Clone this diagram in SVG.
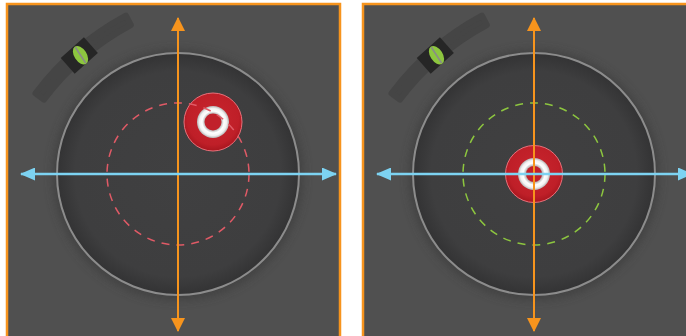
<svg xmlns="http://www.w3.org/2000/svg" width="686" height="336" viewBox="0 0 686 336">
<style>
.panel{fill:#505050;stroke:#f7941d;stroke-width:2.5}
.dish{fill:url(#dishG);stroke:#8c8c8c;stroke-width:2}
.halo{fill:#3a3a3a;opacity:0.6;filter:url(#blur)}
.band{fill:#454545;stroke:#454545;stroke-width:6;stroke-linejoin:round}
.block{fill:#262626}
.bubble{fill:#8dc63f}
.bline{stroke:#8a8a8a;stroke-width:1.6}
.tOuter{fill:url(#redG);stroke:#e8707a;stroke-width:1}
.tRing{fill:url(#ringG)}
.tDot{fill:#c1212b}
.dashR{fill:none;stroke:#e05a66;stroke-width:1.5;stroke-dasharray:8 7}
.dashG{fill:none;stroke:#8dc63f;stroke-width:1.5;stroke-dasharray:8 7}
.vaxis{stroke:#f7941d;stroke-width:2;marker-start:url(#ho);marker-end:url(#ho)}
.haxis{stroke:#7dd3f2;stroke-width:2.6;marker-start:url(#hb);marker-end:url(#hb)}
</style>
<defs>
<filter id="blur" x="-20%" y="-20%" width="140%" height="140%"><feGaussianBlur stdDeviation="4"/></filter>
<radialGradient id="dishG" cx="0.5" cy="0.5" r="0.5">
<stop offset="0" stop-color="#404041"/>
<stop offset="0.85" stop-color="#3e3e3f"/>
<stop offset="1" stop-color="#333334"/>
</radialGradient>
<radialGradient id="redG" cx="0.5" cy="0.45" r="0.55">
<stop offset="0" stop-color="#c9252e"/>
<stop offset="0.8" stop-color="#bf1f28"/>
<stop offset="1" stop-color="#a8161e"/>
</radialGradient>
<radialGradient id="ringG" cx="0.5" cy="0.5" r="0.5">
<stop offset="0.5" stop-color="#b0b0b0"/>
<stop offset="0.68" stop-color="#ffffff"/>
<stop offset="0.85" stop-color="#f2f2f2"/>
<stop offset="1" stop-color="#b5b5b5"/>
</radialGradient>
<marker id="ho" viewBox="0 0 14 14" refX="13" refY="7" markerWidth="14" markerHeight="14" markerUnits="userSpaceOnUse" orient="auto-start-reverse">
<path d="M0,0 L14,7 L0,14 Z" fill="#f7941d"/>
</marker>
<marker id="hb" viewBox="0 0 15 13" refX="14" refY="6.5" markerWidth="15" markerHeight="13" markerUnits="userSpaceOnUse" orient="auto-start-reverse">
<path d="M0,0 L15,6.5 L0,13 Z" fill="#7dd3f2"/>
</marker>
<g id="level-shape">
<path class="band" d="M35.5,93.3 A277.25,277.25 0 0 1 125.9,15.7 L130.8,25 A266.75,266.75 0 0 0 43.9,99.6 Z"/>
<rect class="block" x="-15.5" y="-10.5" width="31" height="21" transform="translate(79.3,55.5) rotate(-41.6)"/>
<g transform="translate(80.5,55.2) rotate(-33)">
<ellipse class="bubble" cx="0" cy="0" rx="6.2" ry="10.3"/>
<line class="bline" x1="0" y1="-9.5" x2="0" y2="9.5"/>
</g>
</g>
</defs>

<g id="panel-left">
<rect class="panel" x="7" y="4" width="333" height="345"/>
<g id="level-left"><use href="#level-shape"/></g>
<g id="dish-left">
<circle class="halo" cx="178" cy="175" r="126"/>
<circle class="dish" cx="178" cy="174" r="121"/>
</g>
<g id="target-left">
<circle class="tOuter" cx="213" cy="122" r="29"/>
<circle class="tRing" cx="213" cy="122" r="16"/>
<circle class="tDot" cx="213" cy="122" r="8.5"/>
</g>
<g id="range-left"><circle class="dashR" cx="178" cy="174" r="71"/></g>
</g>

<g id="panel-right">
<rect class="panel" x="363" y="4" width="340" height="345"/>
<g id="level-right" transform="translate(356,0)"><use href="#level-shape"/></g>
<g id="dish-right">
<circle class="halo" cx="534" cy="175" r="126"/>
<circle class="dish" cx="534" cy="174" r="121"/>
</g>
<g id="target-right">
<circle class="tOuter" cx="534" cy="174" r="28.5"/>
<circle class="tRing" cx="534" cy="174" r="16"/>
<circle class="tDot" cx="534" cy="174" r="8"/>
</g>
<g id="range-right"><circle class="dashG" cx="534" cy="174" r="71"/></g>
</g>

<g id="connectors">
<line class="vaxis" x1="178" y1="18" x2="178" y2="331"/>
<line class="haxis" x1="21" y1="174" x2="336" y2="174"/>
<line class="vaxis" x1="534" y1="18" x2="534" y2="331"/>
<line class="haxis" x1="377" y1="174" x2="692" y2="174"/>
</g>
</svg>
